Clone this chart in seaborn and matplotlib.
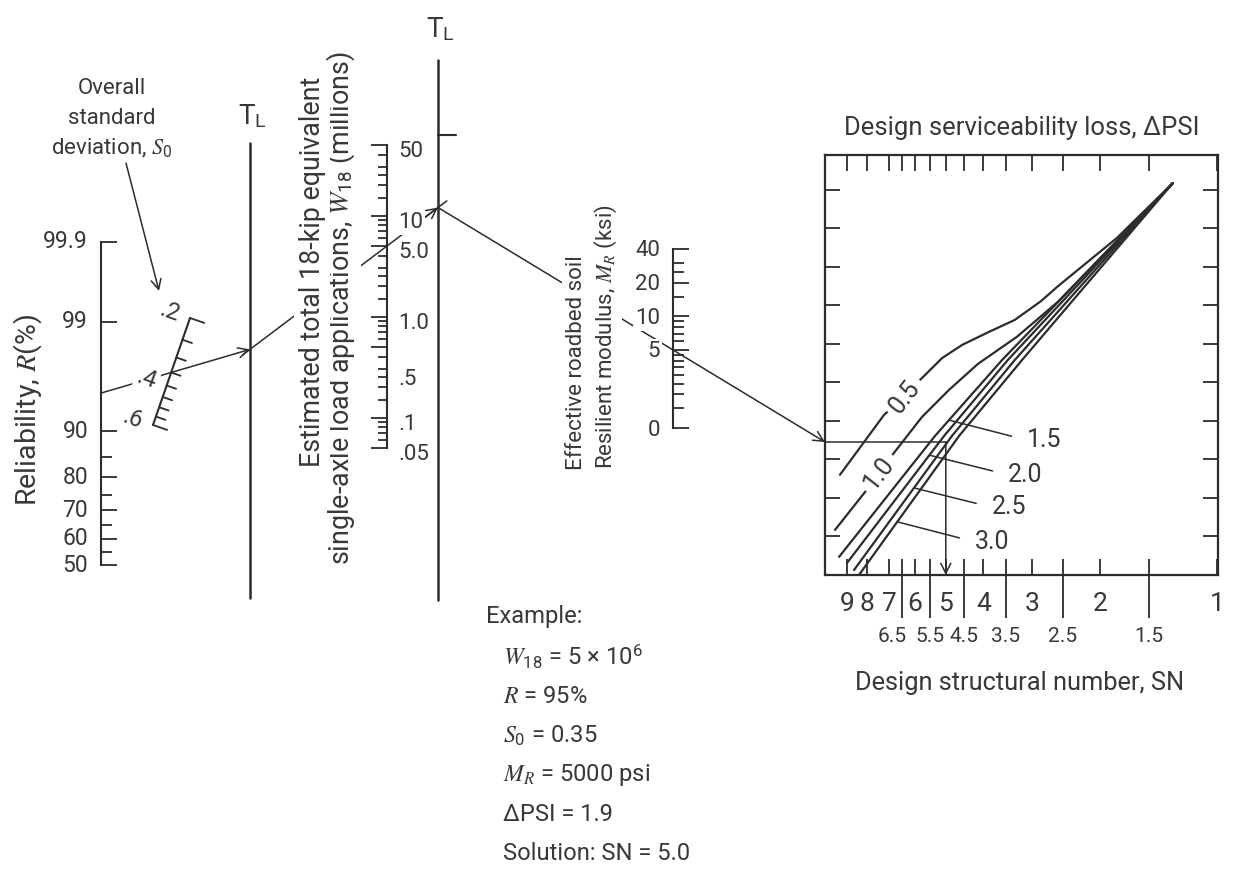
import numpy as np
import pandas as pd
import matplotlib
matplotlib.use("Agg")
import matplotlib.pyplot as plt
from matplotlib.transforms import offset_copy
from statistics import NormalDist
import seaborn as sns

# ---------------- scale values ----------------
# Reliability R (%)
R_MAJOR = [99.9, 99, 90, 80, 70, 60, 50]
R_MINOR = [85, 75, 65, 55]
R_LABELS = ["99.9", "99", "90", "80", "70", "60", "50"]

# Overall standard deviation S0
S0_TICKS = [0.20, 0.25, 0.30, 0.35, 0.40, 0.45, 0.50, 0.55, 0.60]
S0_LABEL_VALUES = [0.2, 0.4, 0.6]
S0_LABELS = [".2", ".4", ".6"]

# W18 (millions)
W18_MAJOR = [50, 10, 5, 1, 0.5, 0.1, 0.05]
W18_MINOR = [40, 30, 25, 20, 15, 9, 8, 7, 6, 4, 3, 2.5, 2, 1.5,
             0.9, 0.8, 0.7, 0.6, 0.4, 0.3, 0.25, 0.2, 0.15,
             0.09, 0.08, 0.07, 0.06]
W18_LABELS = ["50", "10", "5.0", "1.0", ".5", ".1", ".05"]

# Resilient modulus MR (ksi)
MR_MAJOR = [40, 20, 10, 5, 1]
MR_MINOR = [30, 25, 15, 9, 8, 7, 6, 4.5, 4, 3.5, 3, 2.5, 2, 1.5]
MR_LABELS = ["40", "20", "10", "5", "0"]

# Design structural number SN
SN_WHOLE = [9, 8, 7, 6, 5, 4, 3, 2, 1]
SN_HALF = [6.5, 5.5, 4.5, 3.5, 2.5, 1.5]

# Serviceability-loss curves: SN vs. chart level
PSI_05_SN = [9.37, 7.22, 5.76, 5.11, 4.54, 3.87, 3.32, 2.84, 2.58, 1.81, 1.30]
PSI_05_LEVEL = [2.60, 4.15, 5.11, 5.63, 5.97, 6.31, 6.62, 7.11, 7.48, 8.75, 10.17]
PSI_10_SN = [9.65, 8.08, 6.80, 5.76, 4.91, 4.13, 3.28, 2.57, 1.30]
PSI_10_LEVEL = [1.17, 2.15, 3.17, 4.10, 4.80, 5.48, 6.18, 7.09, 10.17]
PSI_15_SN = [9.42, 5.33, 3.58, 1.30]
PSI_15_LEVEL = [0.47, 3.61, 5.58, 10.17]
PSI_20_SN = [8.99, 5.05, 3.46, 1.30]
PSI_20_LEVEL = [0.31, 3.61, 5.58, 10.17]
PSI_25_SN = [8.62, 4.82, 3.32, 1.30]
PSI_25_LEVEL = [0.13, 3.61, 5.58, 10.17]
PSI_30_SN = [8.37, 4.62, 3.18, 1.30]
PSI_30_LEVEL = [0.00, 3.61, 5.58, 10.17]

# Worked example
EX_W18 = 5.0      # millions
EX_R = 95
EX_S0 = 0.35
EX_MR = 5.0       # ksi
EX_DPSI = 1.9
EX_SN = 5.0

# ---------------- style ----------------
sns.set_theme(style="white")
plt.rcParams["font.family"] = ["Roboto", "DejaVu Sans"]
plt.rcParams["mathtext.fontset"] = "stix"
TEXT = "#383838"
LINE = "#2c2c2c"
plt.rcParams["text.color"] = TEXT

W, H = 1247, 882
PT = 0.72  # points per pixel at 100 dpi
fig = plt.figure(figsize=(W / 100, H / 100), dpi=100)
fig.patch.set_facecolor("white")


def rect(x0, y0, x1, y1):
    return [x0 / W, 1 - y1 / H, (x1 - x0) / W, (y1 - y0) / H]


def scale_axes(x, y_top, y_bot, side):
    if side == "left":
        ax = fig.add_axes(rect(x, y_top, x + 2, y_bot), zorder=1)
    else:
        ax = fig.add_axes(rect(x - 2, y_top, x, y_bot), zorder=1)
    ax.patch.set_visible(False)
    for name, sp in ax.spines.items():
        sp.set_visible(name == side)
        sp.set_linewidth(1.5)
        sp.set_color(LINE)
    ax.set_xticks([])
    return ax


# ---- reliability (normal-deviate scale) ----
_nd = NormalDist()


def _probit(p):
    p = np.clip(np.asarray(p, dtype=float) / 100.0, 1e-9, 1 - 1e-9)
    return np.vectorize(_nd.inv_cdf, otypes=[float])(p)


def _unprobit(z):
    return 100.0 * np.vectorize(_nd.cdf, otypes=[float])(np.asarray(z, dtype=float))


ax_r = scale_axes(101, 242, 565, "left")
ax_r.set_yscale("function", functions=(_probit, _unprobit))
ax_r.set_ylim(50, 99.9)
ax_r.set_yticks(R_MAJOR)
ax_r.set_yticks(R_MINOR, minor=True)
ax_r.tick_params(axis="y", which="both", direction="in", left=True, labelleft=False,
                 width=1.3, color=LINE)
ax_r.tick_params(axis="y", which="major", length=16 * PT)
ax_r.tick_params(axis="y", which="minor", length=11 * PT)

# ---- W18 (log scale) ----
ax_w = scale_axes(387, 145, 448, "right")
ax_w.set_yscale("log")
ax_w.set_ylim(0.05, 50)
ax_w.set_yticks(W18_MAJOR)
ax_w.set_yticks(W18_MINOR, minor=True)
ax_w.tick_params(axis="y", which="both", direction="in", left=False, right=True,
                 labelleft=False, labelright=False, width=1.3, color=LINE)
ax_w.tick_params(axis="y", which="major", length=16 * PT)
ax_w.tick_params(axis="y", which="minor", length=9 * PT)

# ---- MR (log scale) ----
ax_m = scale_axes(673, 249, 428, "left")
ax_m.set_yscale("log")
ax_m.set_ylim(1, 40)
ax_m.set_yticks(MR_MAJOR)
ax_m.set_yticks(MR_MINOR, minor=True)
ax_m.tick_params(axis="y", which="both", direction="in", left=True, labelleft=False,
                 width=1.3, color=LINE)
ax_m.tick_params(axis="y", which="major", length=16 * PT)
ax_m.tick_params(axis="y", which="minor", length=11 * PT)

# ---- design chart ----
ax_c = fig.add_axes(rect(825, 155, 1218, 575), zorder=1)
ax_c.patch.set_visible(False)
curves = [("0.5", PSI_05_SN, PSI_05_LEVEL), ("1.0", PSI_10_SN, PSI_10_LEVEL),
          ("1.5", PSI_15_SN, PSI_15_LEVEL), ("2.0", PSI_20_SN, PSI_20_LEVEL),
          ("2.5", PSI_25_SN, PSI_25_LEVEL), ("3.0", PSI_30_SN, PSI_30_LEVEL)]
df = pd.concat([pd.DataFrame({"sn": s, "level": l, "dpsi": k}) for k, s, l in curves],
               ignore_index=True)
sns.lineplot(data=df, x="sn", y="level", hue="dpsi",
             palette={k: LINE for k, _, _ in curves}, estimator=None, sort=False,
             legend=False, lw=1.6, ax=ax_c)
ax_c.set_xscale("log")
ax_c.set_xlim(10.24, 0.994)
ax_c.set_ylim(0, 10.9)
ax_c.set_xlabel("")
ax_c.set_ylabel("")
for sp in ax_c.spines.values():
    sp.set_visible(True)
    sp.set_linewidth(1.6)
    sp.set_color(LINE)

sn_all = sorted(SN_WHOLE + SN_HALF, reverse=True)
ax_c.set_xticks(sn_all, labels=[f"{v:g}" if v in SN_WHOLE else "" for v in sn_all])
ax_c.set_xticks(SN_HALF, minor=True)
ax_c.xaxis.remove_overlapping_locs = False
ax_c.tick_params(axis="x", which="major", direction="in", length=16 * PT, width=1.3,
                 top=True, bottom=True, labelsize=19, pad=12, labelcolor=TEXT, color=LINE)
ax_c.tick_params(axis="x", which="minor", direction="out", length=43 * PT, width=1.3,
                 top=False, bottom=True, labelbottom=False, color=LINE)
ax_c.set_yticks(range(1, 11), labels=[])
ax_c.set_yticks([], minor=True)
ax_c.tick_params(axis="y", which="major", direction="in", length=15 * PT, width=1.3,
                 left=True, right=True, labelleft=False, color=LINE)

# half-value labels under the long ticks
HALF_NUDGE = {6.5: -9}
for v in SN_HALF:
    ax_c.text(v, 0, f"{v:g}", ha="center", va="center", fontsize=15, color=TEXT,
              transform=offset_copy(ax_c.get_xaxis_transform(), fig=fig,
                                    x=HALF_NUDGE.get(v, 0), y=-62, units="dots"),
              clip_on=False)

# curve labels
WHITE = dict(boxstyle="square,pad=0.2", fc="white", ec="none")
ax_c.text(6.37, 4.62, "0.5", rotation=52, ha="center", va="center", fontsize=18,
          bbox=WHITE, zorder=4)
ax_c.text(7.43, 2.65, "1.0", rotation=52, ha="center", va="center", fontsize=18,
          bbox=WHITE, zorder=4)
leader = [("1.5", PSI_15_SN, PSI_15_LEVEL, 4.02, 2.79, 3.50),
          ("2.0", PSI_20_SN, PSI_20_LEVEL, 3.11, 3.12, 2.60),
          ("2.5", PSI_25_SN, PSI_25_LEVEL, 2.26, 3.44, 1.76),
          ("3.0", PSI_30_SN, PSI_30_LEVEL, 1.38, 3.80, 0.86)]
for name, s, l, lev, tx, ty in leader:
    sn_at = 10 ** np.interp(lev, l, np.log10(s))
    ax_c.annotate(name, xy=(sn_at, lev), xytext=(tx, ty), textcoords="data",
                  ha="center", va="center", fontsize=18, color=TEXT,
                  arrowprops=dict(arrowstyle="-", color=LINE, lw=1.1, relpos=(0, 0.5),
                                  shrinkA=9, shrinkB=0))

# ---------------- overlay (nomograph lines and text) ----------------
ov = fig.add_axes([0, 0, 1, 1], zorder=5)
ov.set_xlim(0, W)
ov.set_ylim(H, 0)
ov.axis("off")
ov.patch.set_visible(False)


def to_ov(trans, xy):
    return ov.transData.inverted().transform(trans.transform(xy))


LW = 1.5
X_TL1, X_TL2 = 250, 438
ov.plot([X_TL1, X_TL1], [143, 598], color=LINE, lw=1.8, zorder=2)
ov.plot([X_TL2, X_TL2], [60, 600], color=LINE, lw=1.8, zorder=2)
ov.plot([X_TL2, X_TL2 + 18], [135, 135], color=LINE, lw=1.5, zorder=2)
for x, y in [(X_TL1, 117), (X_TL2, 30)]:
    ov.text(x + 2, y, r"T$_\mathregular{L}$", ha="center", va="center", fontsize=20, zorder=6)

# standard-deviation scale (inclined, logarithmic)
P_TOP = np.array([190.0, 318.0])
P_BOT = np.array([153.0, 425.0])
s_dir = (P_BOT - P_TOP) / np.linalg.norm(P_BOT - P_TOP)
s_nrm = np.array([s_dir[1], -s_dir[0]])


def s0_point(v):
    f = (np.log10(v) - np.log10(S0_TICKS[0])) / (np.log10(S0_TICKS[-1]) - np.log10(S0_TICKS[0]))
    return P_TOP + f * (P_BOT - P_TOP)


ov.plot([P_TOP[0], P_BOT[0]], [P_TOP[1], P_BOT[1]], color=LINE, lw=LW, zorder=2)
for v in S0_TICKS:
    p = s0_point(v)
    L = 15 if v in (S0_TICKS[0], S0_TICKS[-1]) else 10
    q = p + L * s_nrm
    ov.plot([p[0], q[0]], [p[1], q[1]], color=LINE, lw=1.3, zorder=2)
for v, s in zip(S0_LABEL_VALUES, S0_LABELS):
    p = s0_point(v) + np.array([-20, -6])
    ov.text(p[0], p[1], s, rotation=-20, ha="center", va="center", fontsize=17,
            bbox=dict(boxstyle="square,pad=0.1", fc="white", ec="none"), zorder=6)

# scale labels
for v, s in zip(R_MAJOR, R_LABELS):
    ov.text(0, v, s, transform=offset_copy(ax_r.get_yaxis_transform(), fig=fig, x=-13, y=0, units="dots"),
            ha="right", va="center", fontsize=16.5, zorder=6)
W18_NUDGE = {0.5: -26}
for v, s in zip(W18_MAJOR, W18_LABELS):
    ov.text(1, v, s, transform=offset_copy(ax_w.get_yaxis_transform(), fig=fig, x=11,
                                           y=-7 + W18_NUDGE.get(v, 0), units="dots"),
            ha="left", va="center", fontsize=16, zorder=6,
            bbox=dict(boxstyle="square,pad=0.1", fc="white", ec="none"))
for v, s in zip(MR_MAJOR, MR_LABELS):
    ov.text(0, v, s, transform=offset_copy(ax_m.get_yaxis_transform(), fig=fig, x=-13, y=-2, units="dots"),
            ha="right", va="center", fontsize=16, zorder=6,
            bbox=dict(boxstyle="square,pad=0.1", fc="white", ec="none"))

renderer = fig.canvas.get_renderer()


def fit(t, target, vertical=False):
    bb = t.get_window_extent(renderer)
    cur = bb.height if vertical else bb.width
    t.set_fontsize(t.get_fontsize() * target / cur)
    return t.get_fontsize()


MASK = dict(boxstyle="square,pad=0.15", fc="white", ec="none")

# axis titles
t = ov.text(112, 148, r"deviation, $S_\mathregular{0}$", ha="center", va="center", fontsize=14, zorder=6)
fs = fit(t, 122)
ov.text(112, 88, "Overall", ha="center", va="center", fontsize=fs, zorder=6)
ov.text(112, 118, "standard", ha="center", va="center", fontsize=fs, zorder=6)
ov.annotate("", xy=(159, 291), xytext=(126, 163),
            arrowprops=dict(arrowstyle="->", color=LINE, lw=1.1, shrinkA=0, shrinkB=0,
                            mutation_scale=18), zorder=2)

ov.text(28, 410, r"Reliability, $R$(%)", rotation=90, ha="center", va="center",
        fontsize=20.5, zorder=6)

t2 = ov.text(341, 308, r"single-axle load applications, $W_\mathregular{18}$ (millions)",
             rotation=90, ha="center", va="center", fontsize=16, zorder=6, bbox=MASK)
fs = fit(t2, 515, vertical=True)
ov.text(312, 272, "Estimated total 18-kip equivalent", rotation=90, ha="center",
        va="center", fontsize=fs, zorder=6, bbox=MASK)

t4 = ov.text(606, 337, r"Resilient modulus, $M_R$ (ksi)", rotation=90, ha="center",
             va="center", fontsize=16, zorder=6, bbox=MASK)
fs = fit(t4, 265, vertical=True)
ov.text(576, 363, "Effective roadbed soil", rotation=90, ha="center", va="center",
        fontsize=fs, zorder=6, bbox=MASK)

t = ov.text(1022, 128, "Design serviceability loss, \u0394PSI", ha="center", va="center",
            fontsize=17, zorder=6)
fit(t, 355)
t = ov.text(1020, 683, "Design structural number, SN", ha="center", va="center",
            fontsize=17, zorder=6)
fit(t, 330)

# ---------------- worked example path ----------------
ARROW = dict(arrowstyle="->", color=LINE, lw=1.1, shrinkA=0, shrinkB=0, mutation_scale=18)


def extend(a, b, x):
    m = (b[1] - a[1]) / (b[0] - a[0])
    return np.array([x, a[1] + m * (x - a[0])])


r_pt = to_ov(ax_r.get_yaxis_transform(), (0, EX_R))
s_pt = s0_point(EX_S0)
p1 = extend(r_pt, s_pt, X_TL1)
ov.annotate("", xy=p1, xytext=r_pt, arrowprops=ARROW, zorder=2)

w_pt = to_ov(ax_w.get_yaxis_transform(), (1, EX_W18))
p2 = extend(p1, w_pt, X_TL2)
u = (p2 - p1) / np.linalg.norm(p2 - p1)
a0, a1 = p1 - 9 * u, p2 + 11 * u
ov.plot([a0[0], a1[0]], [a0[1], a1[1]], color=LINE, lw=1.1, zorder=2)
ov.annotate("", xy=p2, xytext=p2 - 40 * u, arrowprops=ARROW, zorder=2)

m_pt = to_ov(ax_m.get_yaxis_transform(), (0, EX_MR))
chart_left = to_ov(ax_c.transAxes, (0, 0))[0]
p3 = extend(p2, m_pt, chart_left)
ov.annotate("", xy=p3, xytext=p2, arrowprops=ARROW, zorder=2)
level = ax_c.transData.inverted().transform(ov.transData.transform(p3))[1]

ax_c.plot([ax_c.get_xlim()[0], EX_SN], [level, level], color=LINE, lw=1.1)
ax_c.annotate("", xy=(EX_SN, 0), xytext=(EX_SN, level),
              arrowprops=dict(arrowstyle="->", color=LINE, lw=1.1, shrinkA=0, shrinkB=0,
                              mutation_scale=18))

# example text block
t = ov.text(503, 853, f"Solution: SN = {EX_SN:.1f}", ha="left", va="center", fontsize=17, zorder=6)
fs = fit(t, 187)
ov.text(486, 617, "Example:", ha="left", va="center", fontsize=fs, zorder=6)
ex_lines = [r"$W_\mathregular{18}$ = " + f"{EX_W18:g}" + r" × 10$^\mathregular{6}$",
            f"$R$ = {EX_R:g}%",
            r"$S_\mathregular{0}$ = " + f"{EX_S0:g}",
            r"$M_R$ = " + f"{EX_MR * 1000:g} psi",
            f"\u0394PSI = {EX_DPSI:g}"]
for i, s in enumerate(ex_lines):
    ov.text(503, 657 + 39.3 * i, s, ha="left", va="center", fontsize=fs, zorder=6)

fig.savefig("out.png", dpi=100, facecolor="white")
